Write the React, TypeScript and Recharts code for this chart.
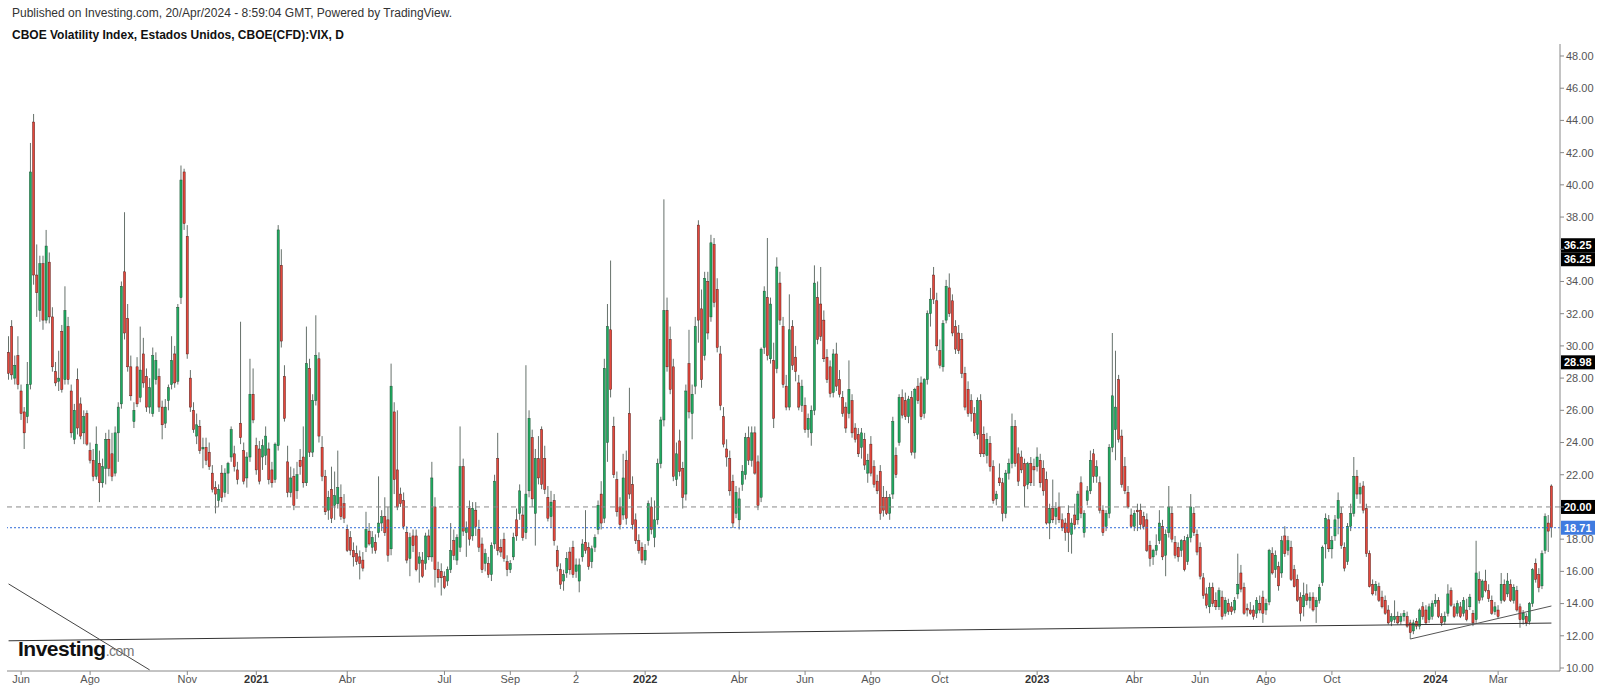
import React from 'react';
import { ComposedChart, Bar, XAxis, YAxis, ReferenceLine } from 'recharts';

type Candle = [number, number, number, number]; // open, high, low, close

// VIX (CFD) candles, two sessions per candle
const vix2020: Candle[] = [
  [29.6,30.6,27.9,28.3],[31.2,31.6,27.9,28.2],[28.0,29.4,27.6,28.8],[29.4,30.6,27.3,27.6],[27.2,27.6,25.4,25.8],
  [25.9,26.2,23.6,24.6],[25.6,29.0,25.2,27.6],[27.6,42.6,27.3,40.8],[43.9,44.4,33.8,34.4],[34.4,36.3,31.8,33.3],
  [32.2,35.6,31.5,35.1],[35.1,35.6,31.0,31.6],[31.6,37.2,31.4,36.2],[35.2,35.8,31.4,31.8],[31.8,32.4,28.4,28.7],
  [28.4,29.0,27.5,27.7],[27.8,29.7,27.2,28.0],[30.9,31.3,27.1,27.3],[27.9,33.7,27.6,32.2],[31.2,31.8,27.6,27.9],
  [27.2,27.6,24.3,24.6],[24.2,26.4,23.9,26.0],[27.9,28.6,24.5,24.9],[26.4,26.8,24.2,24.4],[24.6,26.0,23.9,25.6],
  [25.8,26.0,23.8,23.9],[23.5,24.0,22.7,22.9],[22.9,23.6,21.6,21.9],[21.9,25.0,21.7,23.9],[22.7,23.5,20.3,21.5],
  [21.5,23.0,21.2,22.5],[22.4,24.6,21.4,24.2],[24.2,24.8,21.9,22.4],[23.3,24.6,21.6,21.9],[22.1,25.0,21.9,24.6],
  [24.6,26.5,22.8,26.2],[26.4,34.0,26.1,33.7],[34.6,38.3,30.4,30.8],[31.7,32.6,28.4,28.7],[28.7,29.4,26.6,26.9],
  [25.3,26.5,24.9,26.0],[28.7,29.3,26.2,26.4],[26.8,31.2,26.5,28.5],[29.5,30.5,27.4,27.7],[28.1,28.6,25.9,26.2],
  [26.2,28.0,25.8,27.4],[25.8,29.9,25.6,29.4],[27.9,29.6,27.6,29.1],[28.1,28.6,25.9,26.2],[26.2,26.6,24.2,25.1],
  [25.2,26.7,24.9,26.2],[26.6,27.6,26.0,27.4],[27.6,30.6,27.3,29.1],[29.5,30.0,27.4,27.7],[27.8,32.6,27.6,32.4],
  [33.0,41.2,32.6,40.3],[40.8,41.0,37.2,37.6],[36.8,37.5,29.2,29.5],[28.0,28.5,25.9,26.2],[26.0,26.5,24.6,24.8],
  [24.4,25.8,23.9,25.1],[25.0,25.4,23.3,23.5],[23.6,24.3,22.4,23.7],[23.7,24.3,22.6,22.9],[23.4,24.0,22.3,22.5],
  [22.1,22.6,20.9,21.1],[21.2,21.6,19.6,20.8],[20.4,21.4,20.0,21.1],[22.1,22.6,20.3,20.6],[20.9,22.4,20.6,22.1],
  [22.1,22.8,20.8,22.7],[23.1,25.0,22.8,24.8],[23.3,23.8,22.2,22.5],[22.3,22.8,21.4,21.7],[25.2,31.5,23.9,24.3],
  [23.5,24.0,21.4,21.6],[21.8,23.4,21.2,23.1],[23.1,29.2,22.8,27.0],[27.0,28.6,25.2,25.4],
];

const vix2021: Candle[] = [
  [23.8,24.3,22.0,22.3],[23.6,24.1,21.4,21.6],[23.1,24.2,22.3,23.8],[23.2,25.0,22.6,24.4],[23.6,24.0,21.4,21.7],
  [22.3,22.8,21.2,21.5],[21.7,24.0,21.5,23.9],[23.8,37.5,23.5,37.2],[35.0,36.0,29.9,30.3],[28.1,28.8,25.3,25.5],
  [22.8,23.8,20.6,20.9],[20.9,22.5,20.6,21.8],[21.9,22.4,19.8,20.1],[21.0,22.8,20.5,22.0],[22.9,23.6,22.0,22.5],
  [23.1,25.0,21.2,21.5],[21.5,31.2,21.3,28.9],[28.6,29.2,23.1,23.4],[23.4,27.0,23.1,26.6],[26.6,31.9,26.3,29.4],
  [29.2,29.6,24.0,24.4],[23.7,24.4,21.6,21.9],[21.9,22.3,19.5,19.7],[19.8,21.0,19.2,20.6],[21.1,22.5,19.0,19.3],
  [20.1,22.2,19.2,20.7],[20.2,23.5,19.9,21.2],[20.6,21.4,19.2,19.4],[20.2,20.8,19.0,19.3],[18.6,18.9,17.2,17.3],
  [18.1,18.5,17.0,17.3],[17.3,17.8,16.3,16.9],[17.1,17.6,16.4,16.6],[16.9,17.3,15.5,16.5],[16.7,17.2,16.0,16.2],
  [17.5,19.7,17.2,18.6],[18.5,19.0,17.6,17.7],[17.5,18.5,17.1,18.1],[17.8,18.3,17.1,17.3],[18.4,21.9,18.1,19.0],
  [19.0,19.8,18.5,19.4],[19.4,20.6,18.2,18.4],[19.2,20.0,16.6,17.0],[17.4,28.9,17.0,27.5],[25.9,26.5,20.8,21.7],
  [22.3,26.0,19.8,20.0],[20.8,21.2,20.0,20.2],[20.4,20.9,18.6,18.8],[18.4,18.8,16.5,16.7],[16.8,18.4,15.7,18.1],
  [18.2,18.6,17.2,17.6],[18.2,18.6,16.0,16.1],[16.5,17.2,15.3,16.9],[16.7,17.2,15.6,15.7],[16.5,18.4,16.1,18.2],
  [18.2,18.6,16.7,16.9],[16.9,22.8,16.6,21.8],[20.0,20.6,15.0,16.1],[16.1,16.6,15.3,15.6],[16.0,16.5,14.5,15.6],
  [15.7,16.0,14.9,15.0],[15.4,16.3,15.1,16.1],[16.1,19.0,15.9,17.3],[17.9,18.6,16.7,17.0],[16.7,18.3,16.4,18.1],
  [17.5,25.0,17.2,22.5],[22.5,23.0,18.2,18.5],[18.4,19.1,16.9,18.7],[19.9,20.4,17.6,18.0],[18.2,20.3,17.9,19.9],
  [19.8,20.3,18.2,18.8],[18.6,19.2,17.2,17.5],[17.7,18.1,15.9,16.1],[16.5,17.4,16.0,17.1],[16.5,16.9,15.6,15.8],
  [15.8,17.8,15.4,17.6],[17.7,22.0,17.4,21.6],[23.0,24.6,17.0,17.3],[17.5,18.0,16.9,17.2],[18.0,18.4,16.6,16.8],
  [16.6,17.0,15.7,16.1],[16.1,16.7,15.9,16.5],[16.9,18.4,16.7,18.1],[19.2,19.9,17.9,18.2],[19.6,21.4,19.2,21.0],
  [19.5,20.0,17.9,18.1],[18.4,28.8,18.0,20.8],[21.0,26.0,20.6,25.5],[24.3,24.8,20.0,20.5],[19.6,23.6,17.6,23.0],
  [23.0,24.4,21.4,21.8],[24.8,25.0,21.1,21.4],[23.0,23.8,20.8,21.1],[20.6,21.3,19.1,19.3],[19.4,21.0,18.7,20.3],
  [20.4,20.8,17.6,17.9],[17.3,17.6,16.0,16.3],[16.1,16.5,14.9,15.2],[15.4,16.1,14.8,15.8],[15.9,17.2,15.6,16.8],
  [17.2,17.5,15.8,16.1],[17.5,17.9,15.6,15.8],[16.0,16.8,15.6,16.4],[15.4,16.8,14.7,16.4],[16.9,18.0,16.6,17.7],
  [17.8,19.8,17.1,17.3],[17.5,17.8,16.1,16.3],[16.6,17.6,16.2,17.4],[17.5,18.3,17.2,18.1],[18.6,20.4,18.3,20.1],
  [20.8,21.6,18.6,19.0],[19.3,29.2,19.0,28.6],[24.0,32.6,22.8,31.2],[31.0,35.3,26.8,27.3],[25.0,25.6,21.8,22.0],
  [21.7,22.2,19.4,19.7],[20.0,20.6,18.6,18.9],[19.5,23.3,19.2,21.8],[22.9,23.5,18.9,19.3],[25.8,27.4,20.5,20.8],
  [21.4,21.9,18.6,18.9],[19.2,19.6,17.7,17.9],[17.9,18.3,17.1,17.3],[17.5,17.8,16.5,16.7],
];

const vix2022: Candle[] = [
  [16.7,17.7,16.4,17.3],[17.9,20.4,17.6,20.2],[20.0,20.6,18.3,18.6],[18.1,20.4,17.5,19.2],[19.2,23.0,18.9,22.7],
  [22.7,25.6,22.4,25.4],[25.4,39.1,25.0,32.2],[32.2,33.0,28.4,28.7],[30.4,31.2,27.0,27.3],[28.7,29.2,21.6,21.9],
  [21.7,24.0,21.3,23.3],[24.1,24.8,21.9,22.2],[22.4,22.8,19.9,20.6],[20.8,27.6,20.4,27.2],[28.9,31.0,25.5,25.9],
  [25.8,27.6,24.2,27.0],[27.5,31.8,27.0,31.2],[37.5,37.8,30.2,31.6],[32.3,33.5,27.4,27.9],[29.4,34.6,29.1,34.2],
  [34.0,34.6,30.4,30.8],[31.8,36.9,31.5,36.4],[36.3,36.7,32.4,32.7],[33.5,34.2,29.6,29.9],[29.5,30.0,26.0,26.3],
  [25.6,26.2,23.7,23.9],[23.6,24.2,22.5,23.1],[23.0,23.5,20.7,21.0],[21.6,22.0,18.7,19.0],[19.6,21.3,19.3,20.9],
  [19.2,21.2,18.6,20.5],[21.4,22.6,21.0,22.2],[22.0,24.6,21.7,24.3],[24.3,25.0,22.6,22.9],[22.9,25.0,22.5,24.6],
  [24.6,25.0,22.0,22.1],[22.8,23.2,19.8,20.1],[20.6,29.9,20.3,29.8],[29.9,33.7,29.5,33.4],[33.0,36.7,29.1,29.4],
  [29.2,33.0,28.9,32.6],[29.1,30.2,24.9,25.5],[28.6,35.5,28.3,34.9],[33.9,34.6,31.3,31.6],[31.2,31.8,27.4,27.6],
  [27.5,28.2,26.0,26.2],[26.2,33.2,26.0,31.0],[31.2,31.6,28.5,28.8],[29.3,30.0,27.8,28.4],[27.7,28.2,26.0,26.2],
  [26.3,27.9,25.9,27.5],[26.3,26.8,24.6,24.8],[24.8,25.8,24.3,25.5],[24.6,26.3,23.8,26.0],[26.0,35.0,25.7,33.9],
  [33.0,34.0,30.1,30.4],[32.6,34.9,30.3,30.6],[31.6,32.2,29.0,29.2],[29.3,29.8,27.7,27.9],[28.7,29.1,26.8,27.05],
  [27.1,29.8,26.8,29.5],[29.5,30.2,27.2,27.5],[27.9,28.5,26.8,27.0],[26.8,27.2,25.6,25.8],[26.2,26.5,24.6,24.9],
  [25.8,29.1,25.5,27.3],[26.6,27.0,24.3,24.6],[24.9,25.2,24.0,24.2],[24.5,24.9,23.1,23.3],[23.7,24.9,23.0,24.6],
  [24.2,24.6,22.3,22.6],[22.1,23.3,21.5,22.9],[23.9,24.4,21.9,22.1],[22.5,22.9,21.2,21.4],[21.6,22.0,20.8,21.0],
  [22.2,22.6,19.2,19.6],[20.6,21.3,19.4,19.8],[20.6,21.0,19.5,19.6],[19.6,20.8,19.2,20.6],[20.8,25.6,20.5,25.3],
  [23.2,23.7,21.8,22.0],[24.0,27.0,23.8,26.8],[26.8,27.3,25.5,25.7],[26.6,27.1,25.4,25.6],[25.6,26.9,25.2,26.7],
  [26.8,27.2,23.2,23.4],[23.4,27.4,23.0,27.3],[27.5,28.0,26.4,26.6],[27.7,28.1,25.4,25.6],[25.8,28.0,25.5,27.9],
  [27.9,32.2,27.6,32.0],[32.0,33.6,31.2,32.9],[34.4,34.9,32.6,32.9],[32.8,33.3,29.7,30.0],[29.7,30.4,28.6,28.8],
  [28.7,31.6,28.4,31.4],[31.6,34.1,31.4,33.7],[33.6,34.5,31.8,32.0],[32.8,33.2,30.6,30.8],[31.2,31.6,29.5,29.8],
  [30.8,31.3,29.5,29.7],[30.4,30.8,28.0,28.3],[28.3,28.7,26.0,26.2],[27.3,27.8,25.6,25.8],[26.6,27.0,25.3,25.8],
  [25.8,26.2,24.4,24.6],[24.5,26.8,24.2,26.6],[26.6,27.0,23.1,23.3],[24.5,25.0,23.1,23.3],[23.2,24.6,22.7,24.2],
  [23.95,24.4,22.2,22.5],[22.5,22.9,20.2,20.4],[20.5,21.0,20.1,20.8],[21.8,22.7,21.3,21.5],[21.5,21.8,19.1,19.6],
  [19.6,22.3,19.3,22.1],[22.1,23.0,21.7,22.7],[22.7,25.8,22.4,25.0],[25.0,25.4,22.5,22.7],[23.3,23.7,21.3,21.6],
  [23.1,23.5,22.1,22.3],[22.7,23.0,20.0,21.3],[21.4,22.8,21.1,22.7],[22.7,23.1,21.3,21.5],[22.5,23.0,21.3,22.3],
];

const vix2023: Candle[] = [
  [22.5,23.7,22.2,23.1],[22.9,23.3,21.2,21.5],[22.4,22.9,20.7,21.0],[21.7,22.2,18.9,19.0],[19.0,20.2,18.0,19.9],
  [19.9,21.7,19.0,19.2],[19.4,20.3,18.9,19.9],[20.0,20.9,19.0,19.2],[19.2,19.6,18.5,18.7],[19.0,19.3,17.9,18.4],
  [19.6,20.1,17.2,18.4],[18.3,19.3,17.1,19.0],[19.5,20.2,18.6,18.9],[19.2,21.0,18.9,20.8],[21.5,21.9,19.3,19.6],
  [18.4,19.8,18.1,19.6],[20.4,21.3,20.1,21.0],[21.0,23.5,20.8,22.9],[23.3,23.6,21.5,21.9],[21.9,22.9,21.5,22.5],
  [21.5,21.9,19.6,19.8],[19.8,20.1,18.2,18.4],[18.8,19.8,18.5,19.6],[19.6,23.9,19.3,23.7],[23.7,30.8,23.4,26.9],
  [24.8,29.7,22.9,26.2],[27.9,28.2,24.0,24.2],[24.4,24.8,21.2,21.4],[22.5,23.1,20.8,21.0],[20.9,21.3,19.9,20.0],
  [19.5,19.9,18.7,18.8],[18.8,19.8,18.5,19.6],[19.8,20.2,18.5,19.7],[19.8,20.2,18.6,18.9],[19.4,19.7,18.6,18.8],
  [19.2,19.6,17.2,17.3],[17.6,17.9,16.3,16.8],[16.9,17.4,16.4,17.3],[17.3,18.3,17.0,17.6],[17.9,19.8,17.7,19.0],
  [18.8,19.2,16.7,16.9],[17.0,18.6,15.7,18.3],[18.4,21.3,18.1,20.0],[19.6,20.0,17.8,18.0],[17.8,18.2,16.8,17.0],
  [17.5,17.8,16.6,16.9],[17.3,18.0,16.9,17.9],[17.9,18.2,16.0,16.1],[16.6,18.3,16.4,18.1],[18.1,20.8,17.8,20.0],
  [19.6,20.0,18.2,18.4],[18.3,18.6,17.0,17.2],[17.5,17.8,15.5,15.7],[15.6,15.9,14.3,14.5],[14.6,15.0,13.7,13.9],
  [13.8,15.3,13.4,15.0],[15.0,15.3,13.8,14.0],[14.2,14.7,13.6,13.8],[13.8,15.0,13.6,14.8],[14.4,14.8,13.0,13.2],
  [13.4,14.4,13.2,14.2],[14.0,14.3,13.3,13.5],[13.8,14.1,13.3,13.5],[13.6,14.4,13.4,14.2],[14.6,17.1,14.3,15.2],
  [15.9,16.4,14.7,14.9],[15.0,15.3,13.3,13.4],[13.7,14.0,13.2,13.6],[13.6,14.1,13.3,13.4],[13.6,13.9,13.0,13.2],
  [13.4,14.4,13.1,14.2],[14.0,14.5,13.4,13.6],[14.4,14.8,12.8,13.4],[13.6,14.3,13.3,14.0],[14.1,17.4,13.9,17.3],
  [17.1,17.5,15.8,15.9],[16.1,17.3,15.6,17.0],[16.3,16.6,14.8,15.1],[15.9,18.2,15.6,17.9],[18.2,18.8,16.9,17.1],
  [17.3,18.2,17.0,17.9],[17.5,17.9,15.4,15.5],[16.1,16.4,15.0,15.05],[15.5,15.8,14.1,14.2],[14.4,14.7,12.9,13.4],
  [13.8,15.3,13.2,14.5],[14.6,15.2,13.9,14.2],[14.2,14.7,13.7,14.4],[14.4,14.7,13.5,13.6],[13.8,14.4,12.8,14.2],
  [14.2,15.2,14.0,15.0],[15.3,17.6,15.1,17.5],[17.7,19.6,16.8,19.3],[19.2,19.5,17.2,17.4],[17.4,18.2,16.8,17.9],
  [18.2,19.5,17.9,19.2],[19.3,20.9,18.3,20.4],[19.6,20.0,17.4,17.6],[17.5,17.8,16.0,16.2],[16.6,19.0,16.4,18.8],
  [18.8,20.2,18.5,19.6],[19.6,23.1,19.4,21.9],[21.9,22.3,20.5,20.8],[20.8,21.5,20.2,21.2],[21.3,21.6,19.6,19.8],
  [19.9,20.2,16.9,17.1],[17.1,17.3,15.0,15.05],[15.2,15.5,14.5,14.6],[14.8,15.4,14.5,15.2],[15.05,15.3,14.1,14.2],
  [14.4,14.8,13.7,13.8],[14.2,14.5,13.3,13.4],[13.6,13.9,12.7,12.8],[12.9,13.4,12.6,13.2],[13.0,14.2,12.8,13.2],
  [13.2,13.5,12.7,12.8],[12.9,13.4,12.7,13.2],[13.2,13.6,12.9,13.4],[13.2,13.5,12.5,12.6],[12.8,13.0,11.8,12.2],
  [12.3,13.0,12.1,12.8],[12.9,13.1,12.4,12.6],[12.6,13.7,12.4,13.6],[13.8,14.1,13.0,13.2],[13.6,13.9,12.7,12.8],
  [13.0,14.0,12.8,13.8],[13.2,14.2,13.0,14.0],
];

const vix2024: Candle[] = [
  [14.0,14.6,13.8,14.2],[14.2,14.4,13.1,13.2],[13.2,13.4,12.6,12.8],[12.9,13.5,12.7,13.2],[13.4,15.2,13.2,14.6],
  [14.8,15.0,13.8,13.9],[13.8,14.0,13.1,13.2],[13.4,14.2,13.2,14.0],[13.8,14.1,13.1,13.2],[13.4,14.4,13.2,14.2],
  [13.6,14.3,12.9,13.0],[13.8,14.6,13.6,14.4],[13.4,13.6,12.6,12.8],[13.0,17.9,12.8,15.9],[15.5,16.0,14.0,14.2],
  [14.4,15.5,14.2,15.4],[15.4,16.1,14.7,14.8],[14.8,15.2,14.1,14.3],[14.2,14.5,13.3,13.4],[13.5,14.1,13.3,13.8],
  [13.6,13.9,13.1,13.2],[14.2,15.9,14.0,15.2],[15.2,15.5,14.1,14.2],[14.6,15.9,14.4,15.4],[15.2,15.5,14.1,14.2],
  [14.2,15.2,14.0,15.0],[14.8,15.1,13.5,13.6],[13.8,14.0,12.5,13.0],[13.0,13.6,12.7,13.4],[13.2,13.4,12.6,12.8],
  [12.9,14.1,12.7,14.0],[14.0,16.2,13.8,16.1],[16.5,16.8,15.3,15.5],[15.8,16.2,14.7,15.0],[15.1,17.3,14.9,17.1],
  [17.3,19.6,17.1,19.4],[19.0,19.5,17.2,18.5],[21.3,21.4,18.1,18.71],
];

// candles per month (Spanish month names on the axis)
const monthCounts2020 = [4, 11, 11, 10, 11, 10, 11, 11]; // May - Dic
const monthCounts2021 = [10, 9, 10, 10, 10, 11, 10, 11, 11, 10, 11, 11];
const monthCounts2022 = [10, 9, 11, 10, 11, 11, 10, 11, 11, 10, 11, 10];
const monthCounts2023 = [10, 10, 11, 10, 11, 11, 10, 11, 10, 11, 11, 11];
const monthCounts2024 = [10, 10, 10, 8]; // Ene - Abr

const tickLabels: Record<string, string> = {
  '2020-06': 'Jun', '2020-08': 'Ago', '2020-11': 'Nov', '2021-01': '2021', '2021-04': 'Abr',
  '2021-07': 'Jul', '2021-09': 'Sep', '2021-11': '2', '2022-01': '2022', '2022-04': 'Abr',
  '2022-06': 'Jun', '2022-08': 'Ago', '2022-10': 'Oct', '2023-01': '2023', '2023-04': 'Abr',
  '2023-06': 'Jun', '2023-08': 'Ago', '2023-10': 'Oct', '2024-01': '2024', '2024-03': 'Mar',
};

const priceTicks = [10, 12, 14, 16, 18, 20, 22, 24, 26, 28, 30, 32, 34, 36, 38, 40, 42, 44, 46, 48];
const coveredTicks = [36, 20]; // hidden behind the price tags
const lastClose = 18.71;
const dashedLevel = 20;
const hiddenLevels = [36.25, 28.98];

// drawn trend lines: [value at start, value at end]
const supportLine = [11.69, 12.79];
const fallingLine = [15.22, 9.88];
const fallingEndKey = '2020-09-9';
const risingLine = [11.8, 13.85];
const risingStartKey = '2023-12-3';

const FONT = "'Liberation Sans', Arial, Helvetica, sans-serif";
const NARROW = "'Liberation Sans Narrow', 'Liberation Sans', Arial, sans-serif";

const years = [
  { year: 2020, first: 5, counts: monthCounts2020, candles: vix2020 },
  { year: 2021, first: 1, counts: monthCounts2021, candles: vix2021 },
  { year: 2022, first: 1, counts: monthCounts2022, candles: vix2022 },
  { year: 2023, first: 1, counts: monthCounts2023, candles: vix2023 },
  { year: 2024, first: 1, counts: monthCounts2024, candles: vix2024 },
];

type Row = { key: string; o: number; h: number; l: number; c: number; range: [number, number] };

const rows: Row[] = [];
years.forEach(({ year, first, counts, candles }) => {
  let k = 0;
  counts.forEach((n, m) => {
    const month = `${year}-${String(first + m).padStart(2, '0')}`;
    for (let j = 0; j < n; j++) {
      const cd = candles[k++];
      if (!cd) continue;
      const [o, h, l, c] = cd;
      rows.push({ key: j === 0 ? month : `${month}-${j}`, o, h, l, c, range: [l, h] });
    }
  });
});

const firstKey = rows[0].key;
const lastKey = rows[rows.length - 1].key;

const CandleShape = (props: any) => {
  const { x, y, width, height, payload } = props;
  if (!payload || x == null || y == null) return null;
  const { o, h, l, c } = payload as Row;
  const top = Math.min(y, y + height);
  const span = Math.abs(height);
  const k = h > l ? span / (h - l) : 0;
  const yo = top + (h - o) * k;
  const yc = top + (h - c) * k;
  const up = c >= o;
  const cx = x + width / 2;
  const bw = Math.max(1.6, width * 0.72);
  return (
    <g>
      <line x1={cx} x2={cx} y1={top} y2={top + span} stroke="#66716b" strokeWidth={1} />
      <rect
        x={cx - bw / 2}
        y={Math.min(yo, yc)}
        width={bw}
        height={Math.max(1, Math.abs(yc - yo))}
        fill={up ? '#1faa60' : '#e4473c'}
        stroke={up ? '#1d4a30' : '#4a1a16'}
        strokeWidth={0.45}
      />
    </g>
  );
};

const AxisTick = ({ x, y, payload }: any) => {
  const label = tickLabels[payload.value] ?? '';
  const isYear = /^\d{4}$/.test(label);
  return (
    <text x={x} y={y + 6} textAnchor="middle" fontSize={11} fontFamily={NARROW}
      fontWeight={isYear ? 700 : 400} fill={isYear ? '#333' : '#555'}>
      {label}
    </text>
  );
};

const PriceTag = ({ viewBox, value, bg, count = 1 }: any) => {
  if (!viewBox) return null;
  const x = viewBox.x + viewBox.width;
  const y = viewBox.y;
  return (
    <g>
      {Array.from({ length: count }, (_, i) => (
        <g key={i}>
          <rect x={x + 1} y={y - 7 + i * 14} width={34} height={14} fill={bg} />
          <text x={x + 4} y={y + 4 + i * 14} fill="#fff" fontSize={11} fontWeight={700} fontFamily={FONT}>
            {value.toFixed(2)}
          </text>
        </g>
      ))}
    </g>
  );
};

export default function App() {
  return (
    <div style={{ position: 'absolute', left: 0, top: 0, width: 1600, height: 692, background: '#fff' }}>
      <div style={{ position: 'absolute', left: 12, top: 6, fontSize: 12, fontFamily: FONT, color: '#333', whiteSpace: 'nowrap' }}>
        Published on Investing.com, 20/Apr/2024 - 8:59:04 GMT, Powered by TradingView.
      </div>
      <div style={{ position: 'absolute', left: 12, top: 28, fontSize: 12, fontFamily: FONT, fontWeight: 700, color: '#111', whiteSpace: 'nowrap' }}>
        CBOE Volatility Index, Estados Unidos, CBOE(CFD):VIX, D
      </div>
      <ComposedChart
        width={1600}
        height={692}
        data={rows}
        margin={{ top: 44, right: 0, bottom: 0, left: 7 }}
        barCategoryGap={0}
        barGap={0}
      >
        <XAxis
          dataKey="key"
          type="category"
          ticks={Object.keys(tickLabels)}
          interval={0}
          height={21}
          padding={{ left: 0, right: 7 }}
          axisLine={{ stroke: '#888' }}
          tickLine={{ stroke: '#888' }}
          tickSize={4}
          tick={<AxisTick />}
        />
        <YAxis
          orientation="right"
          type="number"
          width={40}
          domain={[9.814, 48.745]}
          allowDataOverflow
          ticks={priceTicks}
          tickFormatter={(v: number) => (coveredTicks.includes(v) ? '' : v.toFixed(2))}
          axisLine={{ stroke: '#888' }}
          tickLine={{ stroke: '#888' }}
          tickSize={4}
          tickMargin={2}
          tick={{ fontSize: 11, fill: '#555', fontFamily: FONT }}
        />
        <ReferenceLine y={hiddenLevels[0]} stroke="none" label={<PriceTag value={hiddenLevels[0]} bg="#000" count={2} />} />
        <ReferenceLine y={hiddenLevels[1]} stroke="none" label={<PriceTag value={hiddenLevels[1]} bg="#000" />} />
        <ReferenceLine y={dashedLevel} stroke="#8a8a8a" strokeDasharray="5 4" label={<PriceTag value={dashedLevel} bg="#000" />} />
        <ReferenceLine y={lastClose} stroke="#2f6bd8" strokeDasharray="2 2" label={<PriceTag value={lastClose} bg="#3f7be0" />} />
        <ReferenceLine segment={[{ x: firstKey, y: supportLine[0] }, { x: lastKey, y: supportLine[1] }]} stroke="#333" strokeWidth={1} />
        <ReferenceLine segment={[{ x: firstKey, y: fallingLine[0] }, { x: fallingEndKey, y: fallingLine[1] }]} stroke="#444" strokeWidth={1} />
        <ReferenceLine segment={[{ x: risingStartKey, y: risingLine[0] }, { x: lastKey, y: risingLine[1] }]} stroke="#555" strokeWidth={1} />
        <Bar dataKey="range" shape={CandleShape} isAnimationActive={false} />
      </ComposedChart>
      <div style={{ position: 'absolute', left: 18, top: 637, fontFamily: FONT, whiteSpace: 'nowrap', letterSpacing: -0.5 }}>
        <span style={{ fontSize: 21, fontWeight: 700, color: '#111' }}>Investing</span>
        <span style={{ fontSize: 14, color: '#777' }}>.com</span>
      </div>
    </div>
  );
}
